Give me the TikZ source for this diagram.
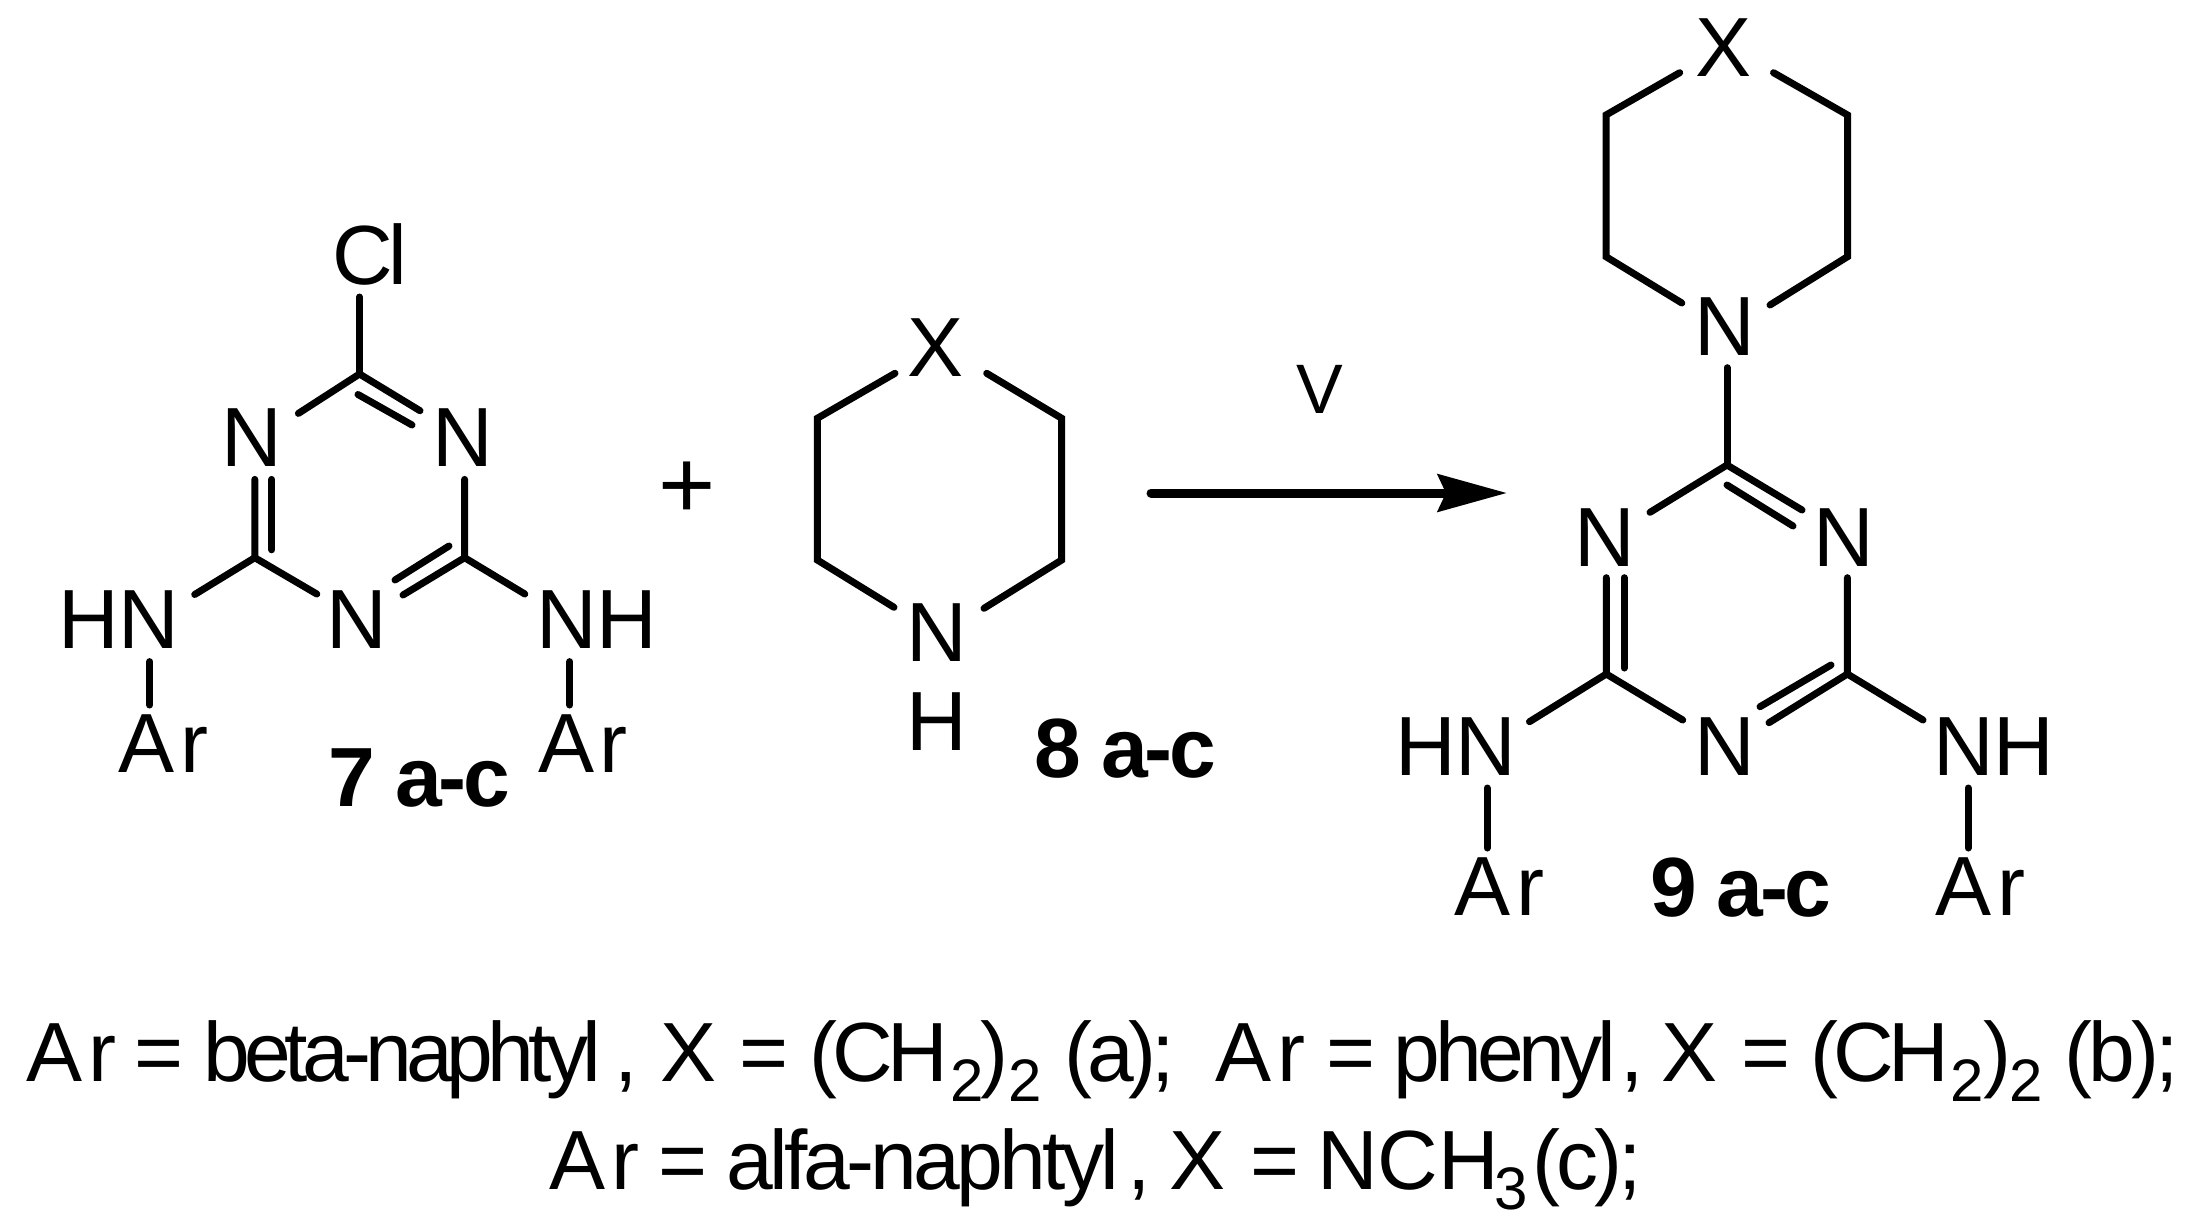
\documentclass[tikz,border=0pt]{standalone}
\usepackage{fontspec}
\setmainfont{Liberation Sans}
\usetikzlibrary{arrows.meta}
\newcommand{\chemsize}{\fontsize{84}{84}\selectfont}
\newcommand{\lowidx}[1]{\raisebox{-20pt}{\fontsize{60}{60}\selectfont #1}}
\newfontfamily\tightfont[LetterSpace=-6]{Liberation Sans}
\newfontfamily\tighterfont[LetterSpace=-7]{Liberation Sans}
\newfontfamily\alfafont[LetterSpace=-4.5]{Liberation Sans}
\newfontfamily\labfont[LetterSpace=-4]{Liberation Sans}
\newcommand{\Aryl}{A\kern6pt r}
\newcommand{\seg}[2]{\makebox[#1pt][l]{#2}}
\tikzset{
  atom/.style={inner sep=0pt,anchor=base,font=\chemsize},
  cmpd/.style={inner sep=0pt,anchor=base,font=\chemsize\labfont\bfseries},
  capline/.style={inner sep=0pt,anchor=base west,font=\chemsize},
  bond/.style={line width=7pt,line cap=round,line join=miter,color=black},
  rxn/.style={line width=9pt,line cap=round,-{Stealth[length=69pt,width=37pt,inset=8pt]}}
}
\begin{document}
\begin{tikzpicture}[x=1pt,y=-1pt]
\useasboundingbox (0,0) rectangle (2206,1226);
% ---- compound 7
\node[atom] (cl7) at (369.7,284) {\tightfont Cl};
\node[atom] (n7l) at (252,466) {N};
\node[atom] (n7r) at (462.7,466) {N};
\node[atom] (n7b) at (357,648.6) {N};
\node[atom] (hn7) at (118.9,648.6) {HN};
\node[atom] (nh7) at (596.8,648.6) {NH};
\node[atom] (ar7l) at (163.5,772) {\Aryl};
\node[atom] (ar7r) at (583,772) {\Aryl};
\node[cmpd] (lab7) at (419.5,806) {7 a-c};
\coordinate (c7t) at (359.5,374);
\coordinate (c7l) at (254.8,557.7);
\coordinate (c7r) at (464.6,557.7);
\coordinate (a7) at (359.5,297);
\coordinate (b7) at (298.4,413.4);
\coordinate (d7) at (420,410.7);
\coordinate (d7i1) at (358,394.5);
\coordinate (d7i2) at (412,425);
\coordinate (e7) at (254.8,479.4);
\coordinate (e7i1) at (271.8,479.4);
\coordinate (e7i2) at (271.8,549.8);
\coordinate (f7) at (464.6,479.4);
\coordinate (g7) at (316.8,594);
\coordinate (h7) at (403,595);
\coordinate (h7i1) at (395,580);
\coordinate (h7i2) at (449,546);
\coordinate (i7) at (194.7,594.5);
\coordinate (j7) at (524.8,594);
\coordinate (k7a) at (149.7,661.6);
\coordinate (k7b) at (149.7,705);
\coordinate (m7a) at (569.8,661.6);
\coordinate (m7b) at (569.8,705);
\draw[bond] (a7) -- (c7t);
\draw[bond] (b7) -- (c7t) -- (d7);
\draw[bond] (d7i1) -- (d7i2);
\draw[bond] (e7) -- (c7l) -- (g7);
\draw[bond] (c7l) -- (i7);
\draw[bond] (e7i1) -- (e7i2);
\draw[bond] (f7) -- (c7r) -- (h7);
\draw[bond] (c7r) -- (j7);
\draw[bond] (h7i1) -- (h7i2);
\draw[bond] (k7a) -- (k7b);
\draw[bond] (m7a) -- (m7b);
% ---- plus
\node[inner sep=0pt,font=\fontsize{98}{98}\selectfont] (plus) at (687,490.5) {+};
% ---- compound 8
\node[atom] (x8) at (936,376.7) {X};
\node[atom] (n8) at (937,661.7) {N};
\node[atom] (h8) at (937,750) {H};
\node[cmpd] (lab8) at (1125.5,777) {8 a-c};
\coordinate (p8a) at (895,373.3);
\coordinate (p8b) at (817.3,418.3);
\coordinate (p8c) at (817.3,560);
\coordinate (p8d) at (894,607.3);
\coordinate (q8a) at (986.7,373.3);
\coordinate (q8b) at (1061.7,418.3);
\coordinate (q8c) at (1061.7,560);
\coordinate (q8d) at (984,608.3);
\draw[bond] (p8a) -- (p8b) -- (p8c) -- (p8d);
\draw[bond] (q8a) -- (q8b) -- (q8c) -- (q8d);
% ---- arrow
\node[atom,font=\fontsize{70}{70}\selectfont] (vlab) at (1319.5,413) {V};
\coordinate (rs) at (1151,493);
\coordinate (re) at (1507,493);
\draw[rxn] (rs) -- (re);
% ---- compound 9
\node[atom] (x9) at (1723.5,76.7) {X};
\node[atom] (n9t) at (1725,355.7) {N};
\node[atom] (n9l) at (1604.5,566) {N};
\node[atom] (n9r) at (1844,566) {N};
\node[atom] (n9b) at (1725,775.7) {N};
\node[atom] (hn9) at (1455.7,775.7) {HN};
\node[atom] (nh9) at (1993.7,775.7) {NH};
\node[atom] (ar9l) at (1499.5,915) {\Aryl};
\node[atom] (ar9r) at (1980,915) {\Aryl};
\node[cmpd] (lab9) at (1741,916) {9 a-c};
\coordinate (p9a) at (1679.7,72.7);
\coordinate (p9b) at (1606,115);
\coordinate (p9c) at (1606,256.7);
\coordinate (p9d) at (1681.8,303);
\coordinate (q9a) at (1773.5,72.7);
\coordinate (q9b) at (1847.5,115);
\coordinate (q9c) at (1847.5,256.7);
\coordinate (q9d) at (1770,305);
\coordinate (r9) at (1727,367.7);
\coordinate (c9t) at (1727,465);
\coordinate (c9l) at (1606.3,674);
\coordinate (c9r) at (1847.4,674);
\coordinate (b9) at (1650,512.3);
\coordinate (d9) at (1802,510);
\coordinate (d9i1) at (1727,485);
\coordinate (d9i2) at (1793,526);
\coordinate (e9) at (1606.3,577.7);
\coordinate (e9i1) at (1624,577.7);
\coordinate (e9i2) at (1624,668);
\coordinate (f9) at (1847.4,577.7);
\coordinate (g9) at (1682.7,720);
\coordinate (h9) at (1769,722.7);
\coordinate (h9i1) at (1760,706.7);
\coordinate (h9i2) at (1831,665);
\coordinate (i9) at (1529.5,721.7);
\coordinate (j9) at (1923,720);
\coordinate (k9a) at (1487,788);
\coordinate (k9b) at (1487,848);
\coordinate (m9a) at (1968,788);
\coordinate (m9b) at (1968,848);
\draw[bond] (p9a) -- (p9b) -- (p9c) -- (p9d);
\draw[bond] (q9a) -- (q9b) -- (q9c) -- (q9d);
\draw[bond] (r9) -- (c9t);
\draw[bond] (b9) -- (c9t) -- (d9);
\draw[bond] (d9i1) -- (d9i2);
\draw[bond] (e9) -- (c9l) -- (g9);
\draw[bond] (c9l) -- (i9);
\draw[bond] (e9i1) -- (e9i2);
\draw[bond] (f9) -- (c9r) -- (h9);
\draw[bond] (c9r) -- (j9);
\draw[bond] (h9i1) -- (h9i2);
\draw[bond] (k9a) -- (k9b);
\draw[bond] (m9a) -- (m9b);
% ---- caption
\node[capline] (line1) at (26,1081.7) {%
\seg{108}{\Aryl{} }\seg{69}{= }\seg{411}{\tighterfont beta-naphtyl}\seg{46}{, }\seg{79}{X }\seg{70}{= }%
\seg{141}{\tightfont (CH}\seg{30}{\lowidx{2}}\seg{28}{)}\seg{56}{\lowidx{2} }\seg{151}{\tightfont (a);}%
\seg{111}{\Aryl{} }\seg{67.5}{= }\seg{226.5}{\tightfont phenyl}\seg{41}{, }\seg{80}{X }\seg{69}{= }%
\seg{140}{\tightfont (CH}\seg{33}{\lowidx{2}}\seg{26}{)}\seg{55}{\lowidx{2} }{\alfafont (b);}};
\node[capline] (line2) at (549,1189) {%
\seg{109}{\Aryl{} }\seg{68}{= }\seg{401}{\alfafont alfa-naphtyl}\seg{42}{, }\seg{81}{X }\seg{67}{= }%
\seg{177}{NCH}\seg{38}{\lowidx{3}}{\alfafont (c);}};
\end{tikzpicture}
\end{document}
